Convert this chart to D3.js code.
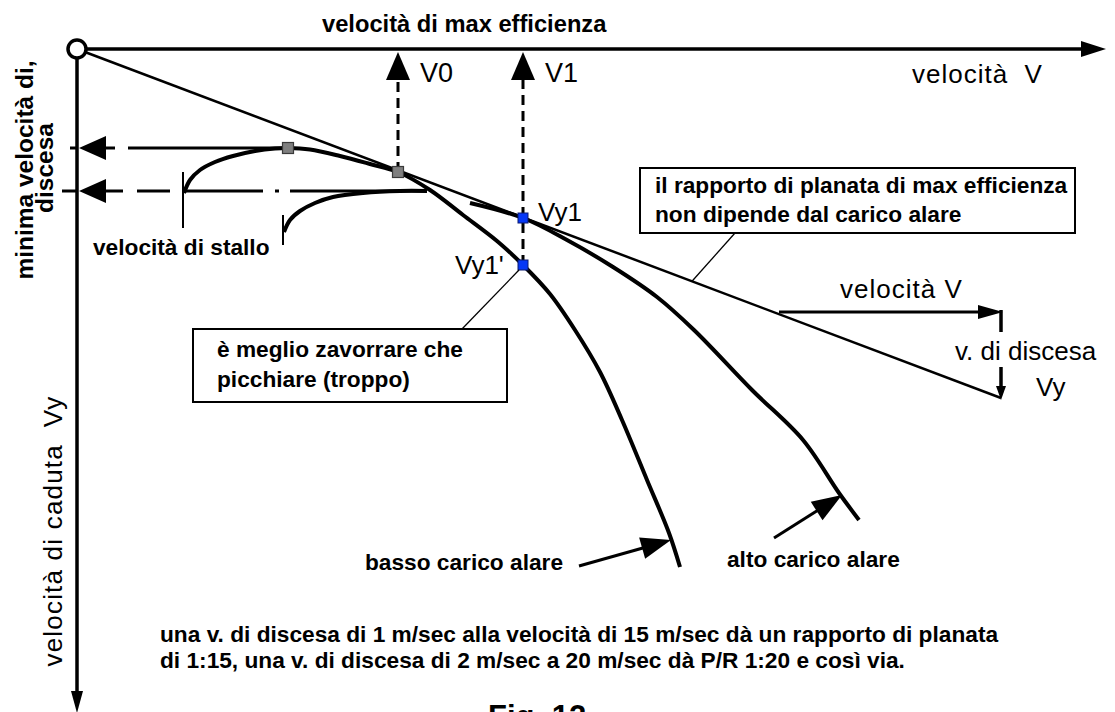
<!DOCTYPE html>
<html><head><meta charset="utf-8">
<script src="https://cdn.jsdelivr.net/npm/d3@7"></script>
<style>
html,body{margin:0;padding:0;background:#fff;}
svg{display:block;}
text{font-family:"Liberation Sans",Arial,Helvetica,sans-serif;fill:#000;white-space:pre;}
.b{font-weight:bold;font-size:22.7px;}
.r{font-weight:normal;font-size:26px;}
</style></head><body>
<svg id="chart" width="1115" height="712"></svg>
<script>
// Speed (to the right) and sink rate (downward), arbitrary units
const speedMax = 103;
const sinkMax = 66.4;

// Speed polar, low wing loading: [speed, sink]
const lowLoadPolar = [[10.7,14.4],[11.3,13.1],[12.3,12.1],[13.8,11.3],[15.6,10.7],[17.8,10.2],[19.8,9.95],[21.1,9.9],[23.3,10.05],[26.3,10.7],[29.3,11.5],[32.1,12.3],[35.3,14.1],[38.6,16.6],[42.0,19.2],[44.6,21.6],[47.3,24.5],[49.8,28.1],[52.3,32.3],[54.5,37.1],[57.0,43.1],[59.2,48.4],[60.3,51.8]];
// Speed polar, high wing loading (slow branch and fast branch)
const highLoadSlow = [[20.7,18.3],[21.3,17.1],[22.3,16.2],[23.8,15.4],[25.6,14.8],[28.6,14.4],[32.3,14.2],[35.0,14.2]];
const highLoadFast = [[39.3,15.4],[44.6,16.9],[49.0,19.1],[53.6,21.8],[58.0,24.8],[61.7,28.1],[67.5,34.1],[72.6,39.1],[76.2,44.4],[78.2,47.1]];
// Tangent from the origin: best glide ratio
const tangentLine = [[0,0],[92.4,34.9]];

// Marked points
const grayPoints = [[21.1,9.9],[32.1,12.3]];
const bluePoints = [[44.6,16.9],[44.6,21.6]];
const pointLabels = ["Vy1","Vy1'"];

// Speeds read on the top axis
const speedMarks = [32.1, 44.6];
const speedNames = ["V0","V1"];
// Minimum sink levels (low / high loading) and where they are reached
const minSinkLevels = [9.9, 14.2];
const minSinkReach = [21.1, 35.0];
// Stall speeds with the sink span of their tick
const stallSpeeds = [10.6, 20.6];
const stallSpans = [[12.3,17.9],[16.6,19.6]];

// Glide triangle: horizontal speed and vertical sink
const glideStart = 70.2, glideEnd = 92.4;
const glideTop = 26.3, glideBottom = 34.9;

// Loading callouts: [tail, tip]
const lowArrow = [[50.2,51.7],[59.4,49.1]];
const highArrow = [[69.7,48.9],[76.5,44.6]];

const svg = d3.select('#chart');
const x = d3.scaleLinear().domain([0, speedMax]).range([77, 1107]);
const y = d3.scaleLinear().domain([0, sinkMax]).range([49, 713]);

function arrowHead(g, tipX, tipY, angle, len, hw) {
  const c = Math.cos(angle), s = Math.sin(angle);
  const bx = tipX - len * c, by = tipY - len * s;
  const pts = [[tipX, tipY], [bx - hw * s, by + hw * c], [bx + hw * s, by - hw * c]];
  g.append('path').attr('d', 'M' + pts.map(p => p.join(',')).join('L') + 'Z').attr('fill', '#000');
}
function seg(g, x1, y1, x2, y2, w, dash) {
  const l = g.append('line').attr('x1', x1).attr('y1', y1).attr('x2', x2).attr('y2', y2)
    .attr('stroke', '#000').attr('stroke-width', w);
  if (dash) l.attr('stroke-dasharray', dash);
  return l;
}

const g = svg.append('g');

// Tangent line (best glide)
seg(g, x(tangentLine[0][0]), y(tangentLine[0][1]), x(tangentLine[1][0]), y(tangentLine[1][1]), 2.5);

// Axes
seg(g, x(0) + 8, y(0), 1086, y(0), 3.5);
arrowHead(g, 1106, y(0), 0, 25, 8);
seg(g, x(0), y(0) + 8, x(0), 696, 3.5);
arrowHead(g, x(0), 713, Math.PI / 2, 22, 6);
g.append('circle').attr('cx', x(0)).attr('cy', y(0)).attr('r', 9)
  .attr('fill', '#fff').attr('stroke', '#000').attr('stroke-width', 3.5);

// Speed verticals V0, V1
speedMarks.forEach((v, i) => {
  const target = i === 0 ? grayPoints[1][1] : bluePoints[1][1];
  seg(g, x(v), y(target), x(v), 80, 3, '10,6');
  arrowHead(g, x(v), 52, -Math.PI / 2, 28, 12);
  g.append('text').attr('class', 'r').style('font-size', '27px').attr('x', x(v) + 22).attr('y', 82).text(speedNames[i]);
});

// Minimum sink arrows to the vertical axis
const minDash = ['10,13,400', '18,14,33,15,78,12,4,11,400'];
minSinkLevels.forEach((w, i) => {
  seg(g, 105, y(w), x(minSinkReach[i]), y(w), 3, minDash[i]);
  arrowHead(g, 79, y(w), Math.PI, 27, 12);
  seg(g, i === 0 ? 70 : 62, y(w), x(0), y(w), 3);
});

// Stall ticks
stallSpeeds.forEach((v, i) => {
  seg(g, x(v), y(stallSpans[i][0]), x(v), y(stallSpans[i][1]), 2);
});

// Polar curves
const line = d3.line().x(d => x(d[0])).y(d => y(d[1])).curve(d3.curveCatmullRom.alpha(0.5));
[lowLoadPolar, highLoadSlow, highLoadFast].forEach(data => {
  g.append('path').attr('d', line(data)).attr('fill', 'none')
    .attr('stroke', '#000').attr('stroke-width', 4).attr('stroke-linejoin', 'round');
});

// Points
grayPoints.forEach(p => {
  g.append('rect').attr('x', x(p[0]) - 5.5).attr('y', y(p[1]) - 5.5).attr('width', 11).attr('height', 11)
    .attr('fill', '#7f7f7f').attr('stroke', '#3a3a3a').attr('stroke-width', 1.2);
});
bluePoints.forEach(p => {
  g.append('rect').attr('x', x(p[0]) - 5).attr('y', y(p[1]) - 5).attr('width', 10).attr('height', 10)
    .attr('fill', '#0637f5').attr('stroke', '#0a1a70').attr('stroke-width', 1);
});
g.append('text').attr('class', 'r').attr('x', x(bluePoints[0][0]) + 15).attr('y', 221).text(pointLabels[0]);
g.append('text').attr('class', 'r').attr('x', x(bluePoints[1][0]) - 68).attr('y', 274).text(pointLabels[1]);

// Glide triangle
seg(g, x(glideStart), y(glideTop), x(glideEnd) - 20, y(glideTop), 3);
arrowHead(g, x(glideEnd) + 2, y(glideTop), 0, 25, 7);
seg(g, x(glideEnd), y(glideTop) - 2, x(glideEnd), y(glideTop) + 20, 3.5);
seg(g, x(glideEnd), y(glideBottom) - 31, x(glideEnd), y(glideBottom) - 6, 3.5);
arrowHead(g, x(glideEnd), y(glideBottom) + 2, Math.PI / 2, 14, 5);
g.append('text').attr('class', 'r').attr('x', 840).attr('y', 298).style('letter-spacing', '1px').text('velocità V');
g.append('text').attr('class', 'r').attr('x', 955).attr('y', 360).text('v. di discesa');
g.append('text').attr('class', 'r').attr('x', 1036).attr('y', 396).text('Vy');

// Loading callouts
[lowArrow, highArrow].forEach(a => {
  const x1 = x(a[0][0]), y1 = y(a[0][1]), x2 = x(a[1][0]), y2 = y(a[1][1]);
  const ang = Math.atan2(y2 - y1, x2 - x1);
  seg(g, x1, y1, x2 - 20 * Math.cos(ang), y2 - 20 * Math.sin(ang), 3);
  arrowHead(g, x2, y2, ang, 30, 11);
});
g.append('text').attr('class', 'b').attr('x', 365).attr('y', 570).text('basso carico alare');
g.append('text').attr('class', 'b').attr('x', 727).attr('y', 567).text('alto carico alare');

// Callout boxes
g.append('rect').attr('x', 640).attr('y', 168).attr('width', 435).attr('height', 65)
  .attr('fill', '#fff').attr('stroke', '#000').attr('stroke-width', 2);
g.append('text').attr('class', 'b').attr('x', 655).attr('y', 193).text('il rapporto di planata di max efficienza');
g.append('text').attr('class', 'b').attr('x', 655).attr('y', 222).text('non dipende dal carico alare');
seg(g, 735, 233, x(61.5), y(61.5 * tangentLine[1][1] / tangentLine[1][0]), 1.3);

g.append('rect').attr('x', 193).attr('y', 329).attr('width', 314).attr('height', 73)
  .attr('fill', '#fff').attr('stroke', '#000').attr('stroke-width', 2);
g.append('text').attr('class', 'b').attr('x', 217).attr('y', 357).text('è meglio zavorrare che');
g.append('text').attr('class', 'b').attr('x', 217).attr('y', 387).text('picchiare (troppo)');
seg(g, 462, 329, x(bluePoints[1][0]) - 4, y(bluePoints[1][1]) + 5, 1.3);

// Other labels
g.append('text').attr('class', 'b').style('font-size', '23.7px').attr('x', 322).attr('y', 32).text('velocità di max efficienza');
g.append('text').attr('class', 'r').attr('x', 912).attr('y', 83).style('letter-spacing', '1px').text('velocità  V');
g.append('text').attr('class', 'b').attr('x', 93).attr('y', 255).text('velocità di stallo');

g.append('text').attr('class', 'b').attr('text-anchor', 'middle')
  .attr('transform', 'translate(33,170) rotate(-90)').style('font-size', '24.5px').text('minima velocità di,');
g.append('text').attr('class', 'b').attr('text-anchor', 'middle')
  .attr('transform', 'translate(53,168) rotate(-90)').style('font-size', '24.5px').text('discesa');
g.append('text').attr('class', 'r').attr('text-anchor', 'middle')
  .attr('transform', 'translate(62,531) rotate(-90)').style('letter-spacing', '1.2px').text('velocità di caduta  Vy');

g.append('text').attr('class', 'b').attr('x', 160).attr('y', 642)
  .text('una v. di discesa di 1 m/sec alla velocità di 15 m/sec dà un rapporto di planata');
g.append('text').attr('class', 'b').attr('x', 160).attr('y', 668)
  .text('di 1:15, una v. di discesa di 2 m/sec a 20 m/sec dà P/R 1:20 e così via.');
g.append('text').attr('class', 'b').style('font-size', '31px').attr('x', 488).attr('y', 727).text('Fig. 12');
</script>
</body></html>
